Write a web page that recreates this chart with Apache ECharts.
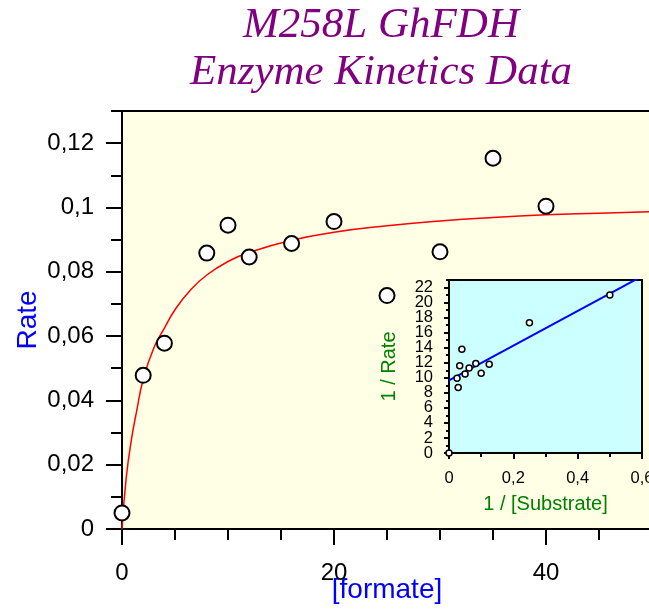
<!DOCTYPE html>
<html>
<head>
<meta charset="utf-8">
<script src="https://cdn.jsdelivr.net/npm/echarts@6/dist/echarts.min.js"></script>
<style>
    html, body { margin: 0; padding: 0; background: #fff; }
    #chart { width: 649px; height: 610px; }
</style>
</head>
<body>
<div id="chart"></div>
<script>
// main plot: rate vs [formate]
const substrate = [0, 2, 4, 8, 10, 12, 16, 20, 25, 30, 35, 40];
const rate = [0.0050, 0.0478, 0.0578, 0.0858, 0.0945, 0.0846, 0.0888, 0.0956, 0.0726, 0.0862, 0.1153, 0.1004];

// fitted curve
const fitX = [0, 0.4, 0.9, 1.4, 2, 3, 4, 5, 6.5, 8, 10, 12, 16, 20, 25, 30, 35, 40, 45, 50];
const fitY = [0, 0.016, 0.028, 0.037, 0.0465, 0.0563, 0.0625, 0.0682, 0.0745, 0.0790, 0.0832, 0.0860, 0.0898, 0.0923, 0.0943, 0.0958, 0.0969, 0.0977, 0.0982, 0.0987];

// inset: double reciprocal
const invS = [0, 0.025, 0.0286, 0.0333, 0.04, 0.05, 0.0625, 0.0833, 0.1, 0.125, 0.25, 0.5];
const invRate = [0, 9.95, 8.7, 11.6, 13.8, 10.5, 11.3, 11.9, 10.6, 11.8, 17.3, 21.0];
const lineX = [0, 0.6];
const lineY = [9.67, 23.5];

// tick positions
const mainXTicks = [0, 20, 40];
const mainXMinor = [5, 10, 15, 25, 30, 35, 45];
const mainYTicks = [0, 0.02, 0.04, 0.06, 0.08, 0.1, 0.12];
const mainYMinor = [0.01, 0.03, 0.05, 0.07, 0.09, 0.11, 0.13];
const insetXTicks = [0, 0.2, 0.4, 0.6];
const insetXMinor = [0.1, 0.3, 0.5];
const insetYTicks = [0, 2, 4, 6, 8, 10, 12, 14, 16, 18, 20, 22];
const insetYMinor = [1, 3, 5, 7, 9, 11, 13, 15, 17, 19, 21, 23];

const FONT = 'Liberation Sans';

function comma(v) {
    return String(+v.toFixed(3)).replace('.', ',');
}

function zip(a, b) {
    return a.map((v, i) => [v, b[i]]);
}

// one visible axis (line, labels, long ticks) and a hidden twin for short ticks.
// split: labels alternate between the two axes so that tight labels never get hidden
function valueAxis(gridIndex, position, min, max, ticks, minor, opts) {
    const labelsA = opts.split ? ticks.filter((v, i) => i % 2 === 0) : ticks;
    const labelsB = opts.split ? ticks.filter((v, i) => i % 2 === 1) : [];
    const labelStyle = {
        formatter: comma, margin: opts.margin,
        showMinLabel: true, showMaxLabel: true, hideOverlap: false,
        color: '#000', fontSize: opts.fontSize, fontFamily: FONT
    };
    const main = {
        type: 'value', gridIndex: gridIndex, position: position, min: min, max: max,
        axisLine: { show: true, onZero: false, lineStyle: { color: '#000', width: 2 } },
        axisTick: { show: true, length: opts.tickLen, customValues: ticks, lineStyle: { color: '#000', width: 2 } },
        axisLabel: Object.assign({ customValues: labelsA }, labelStyle),
        splitLine: { show: false },
        name: opts.name, nameLocation: 'middle', nameGap: opts.nameGap, nameMoveOverlap: false,
        nameTextStyle: { color: opts.nameColor, fontSize: opts.nameSize, fontFamily: FONT }
    };
    const twin = {
        type: 'value', gridIndex: gridIndex, position: position, min: min, max: max,
        axisLine: { show: false },
        axisTick: { show: true, length: opts.minorLen, customValues: minor, lineStyle: { color: '#000', width: 2 } },
        axisLabel: Object.assign({ show: labelsB.length > 0, customValues: labelsB }, labelStyle),
        splitLine: { show: false }
    };
    return [main, twin];
}

const chart = echarts.init(document.getElementById('chart'));

const mainX = valueAxis(0, 'bottom', 0, 50, mainXTicks, mainXMinor, {
    tickLen: 16, minorLen: 11, margin: 32, fontSize: 24,
    name: '[formate]', nameGap: 47, nameColor: '#0000ff', nameSize: 28
});
const mainY = valueAxis(0, 'left', 0, 0.13, mainYTicks, mainYMinor, {
    tickLen: 16, minorLen: 11, margin: 28, fontSize: 24,
    name: 'Rate', nameGap: 80, nameColor: '#0000ff', nameSize: 28
});
const insetX = valueAxis(1, 'bottom', 0, 0.6, insetXTicks, insetXMinor, {
    tickLen: 6, minorLen: 4, margin: 17, fontSize: 16.5,
    name: '1 / [Substrate]', nameGap: 41, nameColor: '#008000', nameSize: 20
});
const insetY = valueAxis(1, 'left', 0, 23, insetYTicks, insetYMinor, {
    tickLen: 5, minorLen: 3, margin: 16, fontSize: 16.5, split: true,
    name: '1 / Rate', nameGap: 50, nameColor: '#008000', nameSize: 20
});

chart.setOption({
    animation: false,
    backgroundColor: '#fff',
    title: {
        text: 'M258L GhFDH\nEnzyme Kinetics Data',
        left: 381, top: 2, textAlign: 'center', padding: 0,
        textStyle: {
            fontFamily: 'Liberation Serif', fontStyle: 'italic', fontWeight: 'normal',
            fontSize: 43, lineHeight: 47, color: '#800080'
        }
    },
    grid: [
        { left: 122, top: 111, width: 530, height: 418, show: true,
          outerBoundsMode: 'none', containLabel: false,
          backgroundColor: '#ffffe6', borderColor: '#000', borderWidth: 2 },
        { left: 449, top: 280, width: 193, height: 173, show: true,
          outerBoundsMode: 'none', containLabel: false,
          backgroundColor: '#ccffff', borderColor: '#000', borderWidth: 2 }
    ],
    xAxis: [mainX[0], mainX[1], insetX[0], insetX[1]],
    yAxis: [mainY[0], mainY[1], insetY[0], insetY[1]],
    series: [
        {
            type: 'line', xAxisIndex: 0, yAxisIndex: 0,
            data: zip(fitX, fitY), smooth: 0.5,
            showSymbol: false, lineStyle: { color: '#ff0000', width: 1.5 }, z: 2
        },
        {
            type: 'scatter', xAxisIndex: 0, yAxisIndex: 0,
            data: zip(substrate, rate), symbolSize: 15,
            itemStyle: { color: '#fff', borderColor: '#000', borderWidth: 2, opacity: 1 }, z: 3
        },
        {
            type: 'line', xAxisIndex: 2, yAxisIndex: 2,
            data: zip(lineX, lineY), showSymbol: false,
            lineStyle: { color: '#0000ff', width: 2 }, z: 2
        },
        {
            type: 'scatter', xAxisIndex: 2, yAxisIndex: 2,
            data: zip(invS, invRate), symbolSize: 6,
            itemStyle: { color: '#fff', borderColor: '#000', borderWidth: 1.5, opacity: 1 }, z: 3
        }
    ]
});
</script>
</body>
</html>
